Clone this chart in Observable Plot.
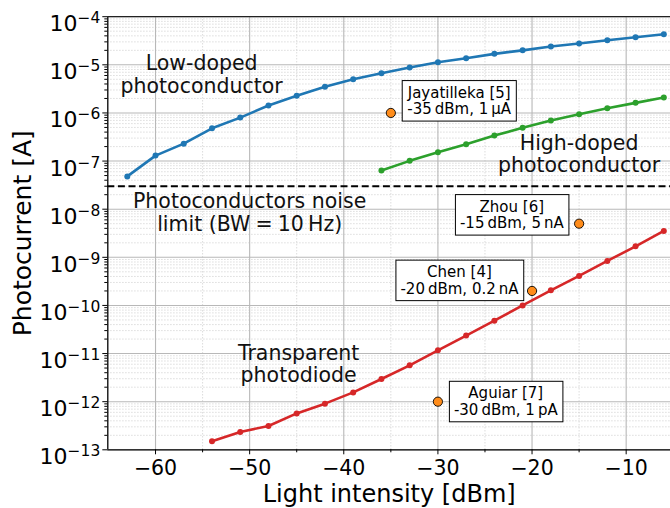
<!DOCTYPE html>
<html><head><meta charset="utf-8">
<script src="https://cdn.jsdelivr.net/npm/d3@7"></script>
<script src="https://cdn.jsdelivr.net/npm/@observablehq/plot@0.6"></script>
<style>
body{margin:0;background:#fff}
svg{font-family:"DejaVu Sans",sans-serif}
</style>
</head><body><div id="chart"></div>
<script>
// ---- data ----
const lowDopedX = [-63,-60,-57,-54,-51,-48,-45,-42,-39,-36,-33,-30,-27,-24,-21,-18,-15,-12,-9,-6];
const lowDopedY = [4.8e-8,1.3e-7,2.3e-7,4.8e-7,8.0e-7,1.43e-6,2.27e-6,3.5e-6,5.0e-6,6.7e-6,8.8e-6,1.13e-5,1.37e-5,1.69e-5,2.0e-5,2.4e-5,2.77e-5,3.25e-5,3.75e-5,4.33e-5];
const highDopedX = [-36,-33,-30,-27,-24,-21,-18,-15,-12,-9,-6];
const highDopedY = [6.35e-8,1.01e-7,1.52e-7,2.23e-7,3.39e-7,4.9e-7,6.95e-7,9.4e-7,1.25e-6,1.62e-6,2.09e-6];
const photodiodeX = [-54,-51,-48,-45,-42,-39,-36,-33,-30,-27,-24,-21,-18,-15,-12,-9,-6];
const photodiodeY = [1.5e-13,2.35e-13,3.13e-13,5.7e-13,9.1e-13,1.56e-12,2.96e-12,5.7e-12,1.17e-11,2.36e-11,4.83e-11,1.0e-10,2.06e-10,4.1e-10,8.4e-10,1.69e-9,3.54e-9];
const noiseLimit = 3e-8;

const refX = [-35,-15,-20,-30];
const refY = [1e-6,5e-9,2e-10,1e-12];
const refText = ["Jayatilleka [5]\n-35\u2009dBm, 1\u2009\u03bcA","Zhou [6]\n-15\u2009dBm, 5\u2009nA","Chen [4]\n-20\u2009dBm, 0.2\u2009nA","Aguiar [7]\n-30\u2009dBm, 1\u2009pA"];
const refTextX = [-27.74,-22.15,-27.71,-22.79];
const refTextY = [1.81e-6,7.73e-9,3.36e-10,1.02e-12];

const seriesLabelText = ["Low-doped\nphotoconductor","High-doped\nphotoconductor","Photoconductors noise\nlimit (BW\u2005=\u200510\u2009Hz)","Transparent\nphotodiode"];
const seriesLabelX = [-55.1,-15,-50,-44.8];
const seriesLabelY = [6.29e-6,1.42e-7,8.65e-9,6.12e-12];

const xMajorTicks = [-60,-50,-40,-30,-20,-10];
const xMinorTicks = [-55,-45,-35,-25,-15];
const yMajorTicks = [1e-13,1e-12,1e-11,1e-10,1e-9,1e-8,1e-7,1e-6,1e-5,1e-4];
const yMinorMantissa = [2,3,4,5,6,7,8,9];
const yMinorTicks = [];
for (const t of yMajorTicks.slice(0,-1)) for (const m of yMinorMantissa) yMinorTicks.push(m*t);

const xDomain = [-65.07,-5.29];
const yDomain = [1e-13,1e-4];

const xLabel = "Light intensity [dBm]";
const yLabel = "Photocurrent [A]";

// ---- tables ----
const lowDoped = lowDopedX.map((x,i)=>({x, y: lowDopedY[i]}));
const highDoped = highDopedX.map((x,i)=>({x, y: highDopedY[i]}));
const photodiode = photodiodeX.map((x,i)=>({x, y: photodiodeY[i]}));
const refs = refX.map((x,i)=>({x, y: refY[i], text: refText[i], tx: refTextX[i], ty: refTextY[i]}));
const seriesLabels = seriesLabelText.map((t,i)=>({text:t, x: seriesLabelX[i], y: seriesLabelY[i]}));

const minus = d => d < 0 ? "\u2212" + Math.abs(d) : String(d);

const chart = Plot.plot({
  width: 670, height: 508,
  marginLeft: 107.3, marginRight: 0, marginTop: 16.2, marginBottom: 58.7,
  x: {domain: xDomain},
  y: {type: "log", domain: yDomain},
  style: {fontFamily: "DejaVu Sans", background: "white", color: "black", overflow: "visible"},
  marks: [
    Plot.gridX(xMinorTicks, {stroke: "#cfcfcf", strokeOpacity: 1, strokeDasharray: "1.2,1.8", strokeWidth: 0.9}),
    Plot.gridY(yMinorTicks, {stroke: "#cfcfcf", strokeOpacity: 1, strokeDasharray: "1.2,1.8", strokeWidth: 0.9}),
    Plot.gridX(xMajorTicks, {stroke: "#b8b8b8", strokeOpacity: 1, strokeWidth: 1.1}),
    Plot.gridY(yMajorTicks, {stroke: "#b8b8b8", strokeOpacity: 1, strokeWidth: 1.1}),
    Plot.axisX(xMinorTicks, {tickSize: 3, tickFormat: () => "", label: null}),
    Plot.axisY(yMinorTicks, {tickSize: 3, tickFormat: () => "", label: null}),
    Plot.axisX(xMajorTicks, {tickSize: 5, tickPadding: 5.5, fontSize: 20.5, tickFormat: minus, label: null}),
    Plot.axisY(yMajorTicks, {tickSize: 5, tickFormat: () => "", label: null}),
    Plot.text(yMajorTicks, {y: d => d, frameAnchor: "left", textAnchor: "end", dx: -7.5, dy: 7.5, fontSize: 22,
      text: d => "10|" + minus(Math.round(Math.log10(d))), className: "ytl"}),
    Plot.text([xLabel], {frameAnchor: "bottom", textAnchor: "middle", lineAnchor: "middle", dy: 44.8, fontSize: 24, text: d => d}),
    Plot.text([yLabel], {frameAnchor: "left", textAnchor: "middle", lineAnchor: "middle", rotate: -90, dx: -84.5, fontSize: 25, text: d => d}),
    Plot.ruleX([xDomain[0]], {stroke: "black", strokeWidth: 1.3}),
    Plot.ruleY([yDomain[0]], {stroke: "black", strokeWidth: 1.3}),
    Plot.ruleY([yDomain[1]], {stroke: "#222", strokeWidth: 1.3}),
    Plot.ruleY([noiseLimit], {stroke: "black", strokeWidth: 2, strokeDasharray: "7,3.6"}),
    Plot.line(lowDoped, {x: "x", y: "y", stroke: "#1f77b4", strokeWidth: 2.6}),
    Plot.dot(lowDoped, {x: "x", y: "y", fill: "#1f77b4", r: 3}),
    Plot.line(highDoped, {x: "x", y: "y", stroke: "#2ca02c", strokeWidth: 2.6}),
    Plot.dot(highDoped, {x: "x", y: "y", fill: "#2ca02c", r: 3}),
    Plot.line(photodiode, {x: "x", y: "y", stroke: "#d62728", strokeWidth: 2.6}),
    Plot.dot(photodiode, {x: "x", y: "y", fill: "#d62728", r: 3}),
    Plot.text(seriesLabels, {x: "x", y: "y", text: "text", fontSize: 20.5, lineHeight: 1.1, lineAnchor: "middle", fill: "#111"}),
    Plot.text(refs, {x: "tx", y: "ty", text: "text", fontSize: 15, lineHeight: 1.1, lineAnchor: "middle", className: "annot"}),
    Plot.dot(refs, {x: "x", y: "y", fill: "#ff8c1a", stroke: "black", strokeWidth: 0.9, r: 4.6})
  ]
});

document.getElementById("chart").appendChild(chart);

const ns = "http://www.w3.org/2000/svg";
// superscript exponents on the y tick labels
chart.querySelectorAll("g.ytl text").forEach(t => {
  const [base, exp] = t.textContent.split("|");
  t.textContent = "";
  const a = document.createElementNS(ns, "tspan"); a.textContent = base;
  const b = document.createElementNS(ns, "tspan"); b.textContent = exp;
  b.setAttribute("font-size", "15.5"); b.setAttribute("dy", "-8");
  t.appendChild(a); t.appendChild(b);
});

// framed boxes behind annotation texts
chart.querySelectorAll("g.annot text").forEach(t => {
  const bb = t.getBBox();
  const r = document.createElementNS(ns, "rect");
  r.setAttribute("x", bb.x - 4.5); r.setAttribute("y", bb.y - 3);
  r.setAttribute("width", bb.width + 9); r.setAttribute("height", bb.height + 6);
  r.setAttribute("fill", "white"); r.setAttribute("stroke", "black"); r.setAttribute("stroke-width", "1");
  if (t.hasAttribute("transform")) r.setAttribute("transform", t.getAttribute("transform"));
  t.parentNode.insertBefore(r, t);
});
</script>
</body></html>
